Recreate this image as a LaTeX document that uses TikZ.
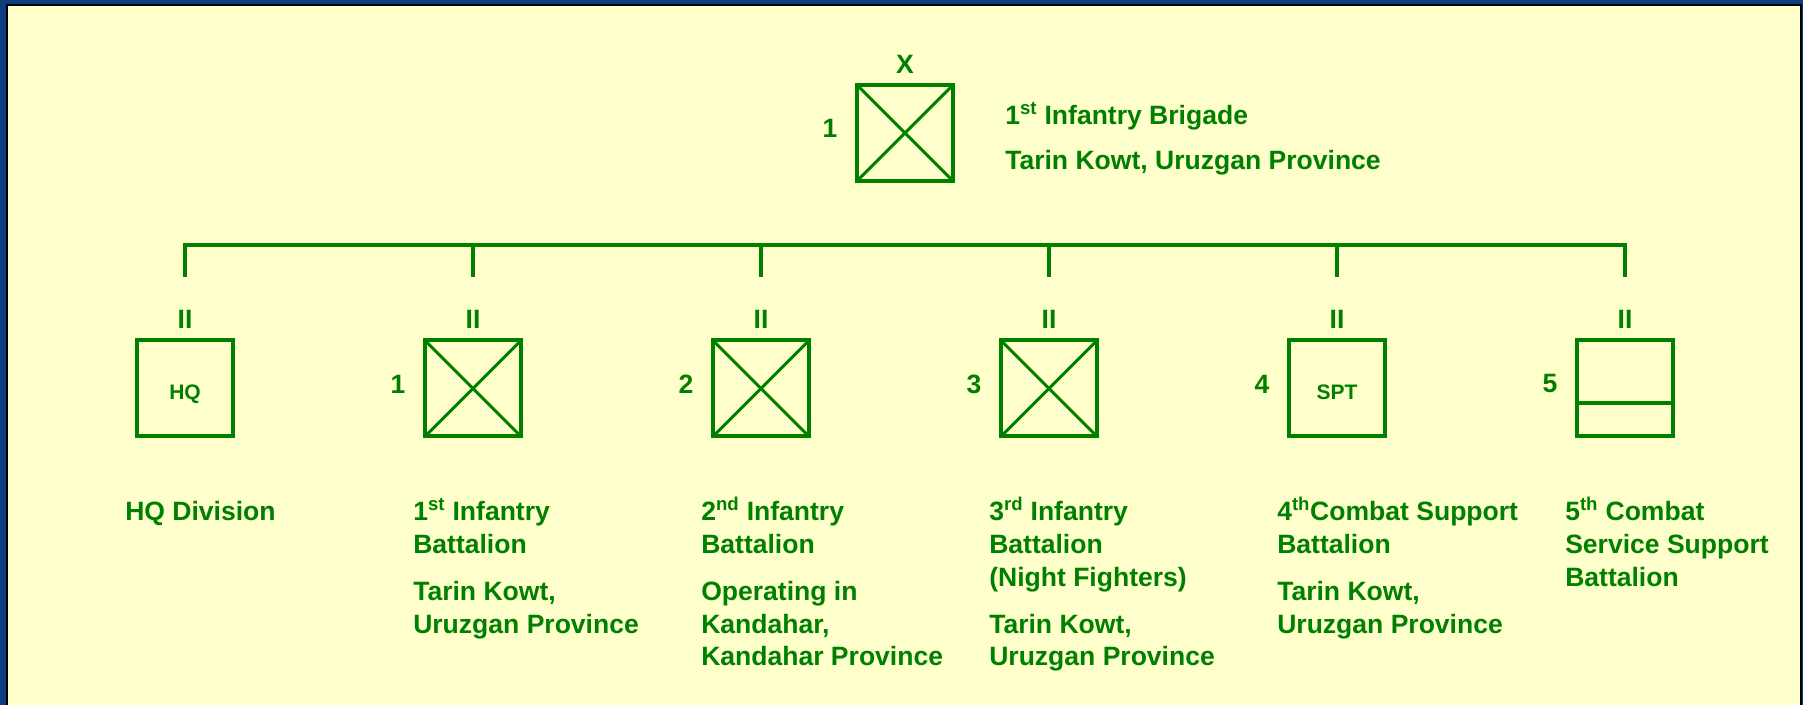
\documentclass[tikz,border=0pt]{standalone}
\usepackage{fontspec}
\setmainfont{Liberation Sans}
\usetikzlibrary{calc}
\definecolor{armygreen}{RGB}{0,128,0}
\definecolor{panelcream}{RGB}{255,255,204}
\definecolor{frameblue}{RGB}{12,62,128}
\newcommand{\ordsup}[1]{\smash{\textsuperscript{#1}}}
\tikzset{
  unitbox/.style={draw=armygreen, line width=3pt, minimum size=72pt, inner sep=0pt, text height=16pt, text depth=0pt, text=armygreen, font=\bfseries\fontsize{15.75}{18}\selectfont},
  infbox/.style={unitbox, path picture={\draw[armygreen, line width=2.3pt] (path picture bounding box.north west) -- (path picture bounding box.south east) (path picture bounding box.south west) -- (path picture bounding box.north east);}},
  echelon/.style={text=armygreen, inner sep=0pt, font=\bfseries\fontsize{19.9}{24.4}\selectfont},
  unitlabel/.style={echelon, anchor=north west, align=left},
  busline/.style={draw=armygreen, line width=2.3pt},
}

\begin{document}
\begin{tikzpicture}[x=0.75pt,y=0.75pt,yscale=-1,xscale=1]
\useasboundingbox (0,0) rectangle (1803,705);

%Shape: Rectangle (backdrop and panel)
\fill[frameblue] (0,0) rectangle (1803,705);
\draw[black, line width=1.5pt, fill=panelcream] (7,5) rectangle (1801,712);

%Shape: Square (brigade)
\node[infbox] (brig) at (905,133) {};
% Text Node
\node[echelon] (brigx) at (905,64) {X};
% Text Node
\node[echelon] (brignum) at (830,128.5) {1};
% Text Node
\node[unitlabel] (brigtext) at (1005,105) {1\ordsup{st} Infantry Brigade\\[9.3pt]Tarin Kowt, Uruzgan Province};

%Shape: Square (battalions)
\node[unitbox] (hq) at (185,388.5) {HQ};
\node[infbox] (bn1) at (473,388.5) {};
\node[infbox] (bn2) at (761,388.5) {};
\node[infbox] (bn3) at (1049,388.5) {};
\node[unitbox] (spt4) at (1337,388.5) {SPT};
\node[unitbox] (css5) at (1625,388.5) {};
%Straight Lines
\draw[armygreen, line width=3pt] ($(css5.north west)!0.65!(css5.south west)$) -- ($(css5.north east)!0.65!(css5.south east)$);

% Text Node
\node[echelon] (e0) at (185,319) {II};
\node[echelon] (e1) at (473,319) {II};
\node[echelon] (e2) at (761,319) {II};
\node[echelon] (e3) at (1049,319) {II};
\node[echelon] (e4) at (1337,319) {II};
\node[echelon] (e5) at (1625,319) {II};

% Text Node
\node[echelon] (n1) at (398,384) {1};
\node[echelon] (n2) at (686,384) {2};
\node[echelon] (n3) at (974,384) {3};
\node[echelon] (n4) at (1262,384) {4};
\node[echelon] (n5) at (1550,384) {5};

% Text Node
\node[unitlabel] (hqtext) at (125,501.5) {HQ Division};
\node[unitlabel] (bn1text) at (413,501.5) {1\ordsup{st} Infantry\\Battalion\\[11pt]Tarin Kowt,\\Uruzgan Province};
\node[unitlabel] (bn2text) at (701,501.5) {2\ordsup{nd} Infantry\\Battalion\\[11pt]Operating in\\Kandahar,\\Kandahar Province};
\node[unitlabel] (bn3text) at (989,501.5) {3\ordsup{rd} Infantry\\Battalion\\(Night Fighters)\\[11pt]Tarin Kowt,\\Uruzgan Province};
\node[unitlabel] (spt4text) at (1277,501.5) {4\ordsup{th}Combat Support\\Battalion\\[11pt]Tarin Kowt,\\Uruzgan Province};
\node[unitlabel] (css5text) at (1565,501.5) {5\ordsup{th} Combat\\Service Support\\Battalion};

%Straight Lines (bus)
\coordinate (j0) at (185,245);
\coordinate (j1) at (473,245);
\coordinate (j2) at (761,245);
\coordinate (j3) at (1049,245);
\coordinate (j4) at (1337,245);
\coordinate (j5) at (1625,245);
\coordinate (t0) at (185,277);
\coordinate (t1) at (473,277);
\coordinate (t2) at (761,277);
\coordinate (t3) at (1049,277);
\coordinate (t4) at (1337,277);
\coordinate (t5) at (1625,277);
\draw[busline] (t0) -- (j0) -- (j5) -- (t5);
\draw[busline] (j1) -- (t1);
\draw[busline] (j2) -- (t2);
\draw[busline] (j3) -- (t3);
\draw[busline] (j4) -- (t4);

\end{tikzpicture}
\end{document}
